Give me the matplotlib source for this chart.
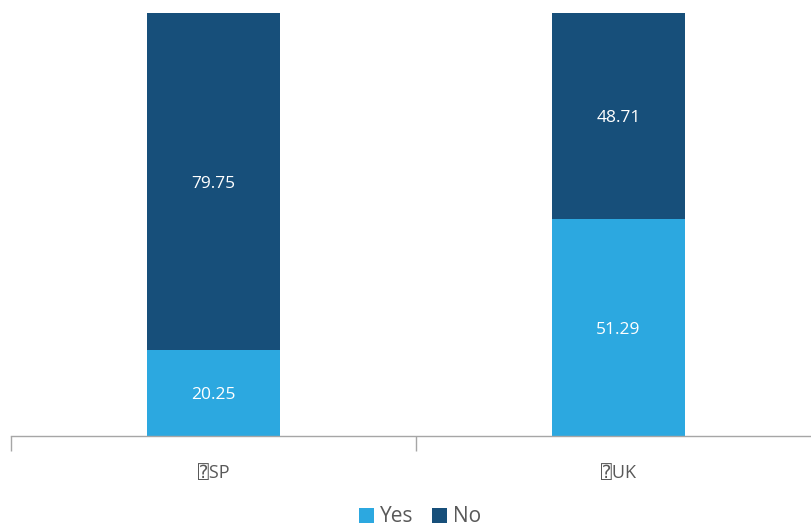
import matplotlib
matplotlib.use("Agg")
import matplotlib.pyplot as plt
import numpy as np

plt.rcParams['font.family'] = ['Open Sans', 'DejaVu Sans', 'DejaVu Sans Mono']

categories = ["\u2370SP", "\u2370UK"]
yes_values = [20.25, 51.29]
no_values = [79.75, 48.71]
series_names = ["Yes", "No"]

yes_color = "#2CA8E0"
no_color = "#174F7A"
axis_color = "#A6A6A6"
text_color = "#595959"

W, H = 811, 529
fig = plt.figure(figsize=(W / 100, H / 100), dpi=100)
ax = fig.add_axes([11 / W, (H - 436) / H, 810 / W, 423 / H])

x = np.arange(len(categories))
bw = 0.33
b1 = ax.bar(x, yes_values, bw, color=yes_color, label=series_names[0], zorder=2)
b2 = ax.bar(x, no_values, bw, bottom=yes_values, color=no_color, label=series_names[1], zorder=2)

for xi, y, n in zip(x, yes_values, no_values):
    ax.text(xi, y / 2 - 0.5, f"{y:.2f}", ha="center", va="center", color="white", fontsize=12.5)
    ax.text(xi, y + n / 2 - 0.5, f"{n:.2f}", ha="center", va="center", color="white", fontsize=12.5)

ax.set_xlim(-0.5, len(categories) - 0.5)
ax.set_ylim(0, 100)
for s in ["top", "right", "left"]:
    ax.spines[s].set_visible(False)
ax.spines["bottom"].set_color(axis_color)
ax.spines["bottom"].set_linewidth(1.0)
ax.set_yticks([])

# Category boundaries carry the tick marks; labels sit at the bar centres
ax.set_xticks(np.arange(len(categories) + 1) - 0.5)
ax.set_xticklabels([])
ax.tick_params(axis="x", which="major", length=11, color=axis_color, width=1.0)
ax.set_xticks(x, minor=True)
ax.set_xticklabels(categories, minor=True)
ax.tick_params(axis="x", which="minor", length=0, pad=20, labelsize=13, labelcolor=text_color)

fig.legend(handles=[b1, b2], labels=series_names, loc="center", bbox_to_anchor=(420 / W, 1 - 517 / H),
           ncol=2, frameon=False, fontsize=15, labelcolor=text_color, handlelength=0.7,
           handleheight=0.7, handletextpad=0.3, columnspacing=0.9)

fig.savefig("out.png", dpi=100)
